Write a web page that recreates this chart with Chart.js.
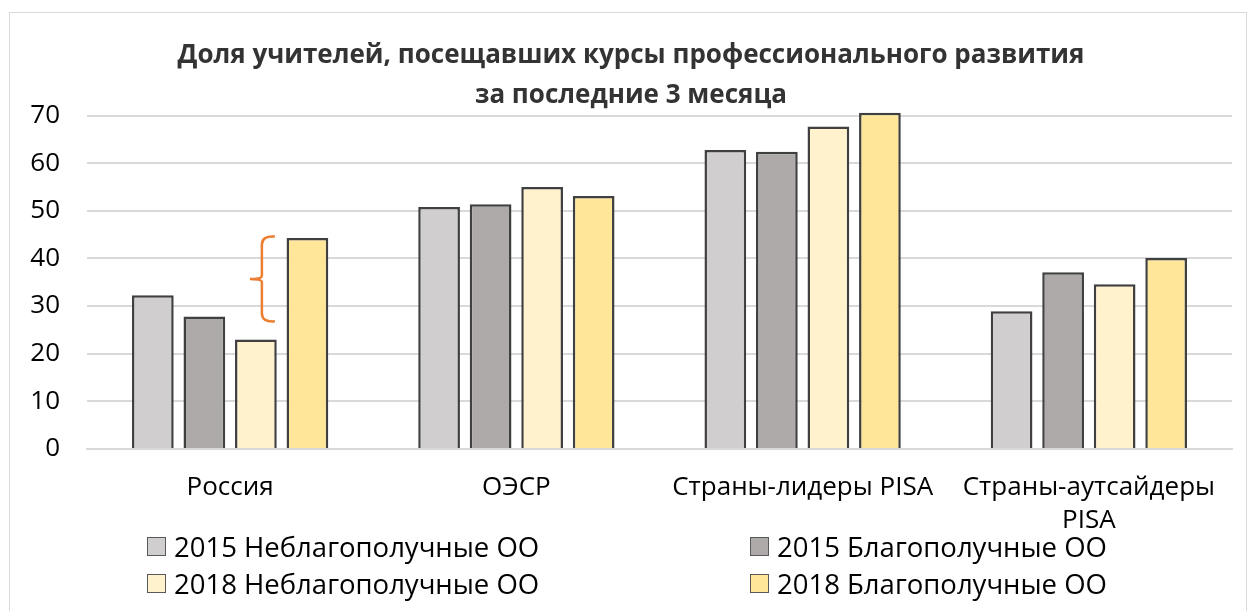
<!DOCTYPE html>
<html>
<head>
<meta charset="utf-8">
<script src="https://cdn.jsdelivr.net/npm/chart.js@4"></script>
<style>
  html, body { margin: 0; padding: 0; background: #fff; }
  #wrap { position: relative; width: 1250px; height: 611px; overflow: hidden; }
  #frame { position: absolute; left: 9px; top: 12px; width: 1236px; height: 620px; border: 1px solid #d9d9d9; }
  #chart { position: absolute; left: 0; top: 0; }
  .legend { position: absolute; font-family: "Open Sans", sans-serif; font-size: 27.5px; color: #000; display: flex; align-items: center; white-space: nowrap; }
  .legend span.box { display: inline-block; width: 17px; height: 17px; border: 1px solid #595959; margin-right: 8px; }
</style>
</head>
<body>
<div id="wrap">
  <div id="frame"></div>
  <canvas id="chart" width="1250" height="611"></canvas>
  <div id="legend"></div>
</div>
<script>
// categories and series
const categories = ["Россия", "ОЭСР", "Страны-лидеры PISA", ["Страны-аутсайдеры", "PISA"]];
const seriesNames = ["2015 Неблагополучные ОО", "2015 Благополучные ОО", "2018 Неблагополучные ОО", "2018 Благополучные ОО"];
const bad2015 = [32.3, 50.8, 62.8, 28.9];
const good2015 = [27.8, 51.4, 62.4, 37.1];
const bad2018 = [23.0, 55.0, 67.7, 34.6];
const good2018 = [44.3, 53.1, 70.6, 40.1];
const yTicks = [0, 10, 20, 30, 40, 50, 60, 70];
const colors = ["#d0cece", "#aeaaaa", "#fff2cc", "#ffe699"];
const titleLines = ["Доля учителей, посещавших курсы профессионального развития", "за последние 3 месяца"];

// orange bracket over the Russia group
const bracketPlugin = {
    id: 'bracket',
    afterDatasetsDraw(chart) {
        const y = chart.scales.y;
        const bar = chart.getDatasetMeta(2).data[0];
        const ctx = chart.ctx;
        const xl = bar.x + 6, top = y.getPixelForValue(44.6), bot = y.getPixelForValue(26.8);
        const mid = (top + bot) / 2;
        ctx.save();
        ctx.strokeStyle = "#ed7d31";
        ctx.lineWidth = 2.5;
        ctx.beginPath();
        ctx.moveTo(xl + 13, top);
        ctx.quadraticCurveTo(xl, top - 1, xl, top + 8);
        ctx.lineTo(xl, mid - 3);
        ctx.quadraticCurveTo(xl, mid, xl - 12, mid);
        ctx.quadraticCurveTo(xl, mid, xl, mid + 3);
        ctx.lineTo(xl, bot - 8);
        ctx.quadraticCurveTo(xl, bot + 1, xl + 13, bot);
        ctx.stroke();
        ctx.restore();
    }
};

const ctx = document.getElementById('chart').getContext('2d');
const chart = new Chart(ctx, {
    type: 'bar',
    data: {
        labels: categories,
        datasets: [bad2015, good2015, bad2018, good2018].map((d, i) => ({
            label: seriesNames[i],
            data: d,
            backgroundColor: colors[i],
            borderColor: "#404040",
            borderWidth: 2.5,
            clip: false,
            categoryPercentage: 0.72,
            barPercentage: 0.81
        }))
    },
    options: {
        responsive: false,
        animation: false,
        layout: { padding: { left: 30, right: 18, top: 35, bottom: 52 } },
        plugins: {
            legend: { display: false },
            tooltip: { enabled: false },
            title: {
                display: true,
                text: titleLines,
                color: "#333",
                font: { family: "Open Sans", size: 26, weight: "bold", lineHeight: 1.55 },
                padding: { top: 0, bottom: 0 }
            }
        },
        scales: {
            x: {
                grid: { display: false, drawTicks: false },
                border: { color: "#d9d9d9", width: 2 },
                ticks: { color: "#000", padding: 22, maxRotation: 0, autoSkip: false,
                         font: { family: "Open Sans", size: 26, lineHeight: 1.27 } }
            },
            y: {
                min: 0, max: 70,
                afterBuildTicks: axis => { axis.ticks = yTicks.map(v => ({ value: v })); },
                afterFit: axis => { axis.width = 57; },
                grid: { color: "#d9d9d9", lineWidth: 2, drawTicks: false },
                border: { display: false },
                ticks: { color: "#000", padding: 27, font: { family: "Open Sans", size: 26 } }
            }
        }
    },
    plugins: [bracketPlugin]
});

// two-column legend
const legendPos = [[147, 548], [750, 548], [147, 585], [750, 585]];
const legendDiv = document.getElementById('legend');
seriesNames.forEach((name, i) => {
    const el = document.createElement('div');
    el.className = 'legend';
    el.style.left = legendPos[i][0] + 'px';
    el.style.top = (legendPos[i][1] - 20) + 'px';
    el.innerHTML = '<span class="box" style="background:' + colors[i] + '"></span>' + name;
    legendDiv.appendChild(el);
});
</script>
</body>
</html>
